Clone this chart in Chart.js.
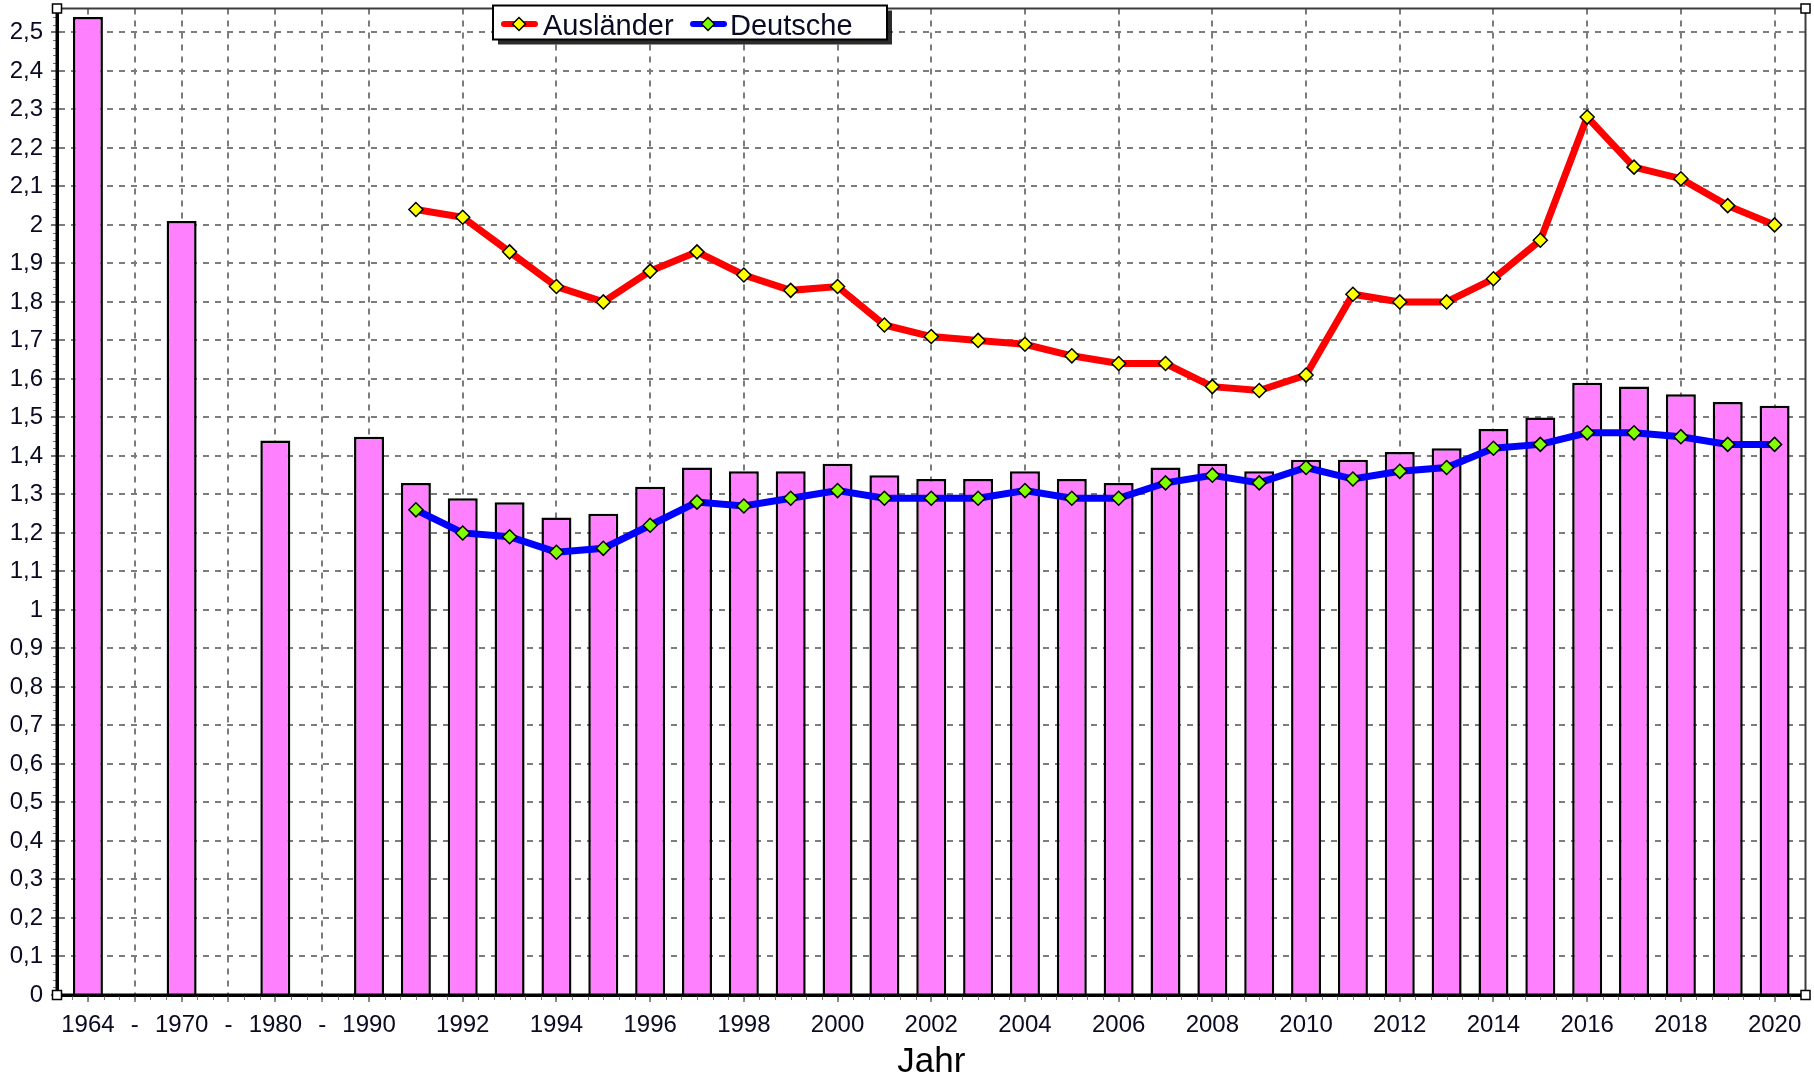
<!DOCTYPE html>
<html>
<head>
<meta charset="utf-8">
<script src="https://cdn.jsdelivr.net/npm/chart.js@4/dist/chart.umd.min.js"></script>
<style>
html,body{margin:0;padding:0;background:#ffffff;}
#wrap{width:1814px;height:1080px;position:relative;}
</style>
</head>
<body>
<div id="wrap"><canvas id="c" width="1814" height="1080"></canvas></div>
<script>
// ---- data ----
const categories = ['1964','-','1970','-','1980','-','1990',
  '1991','1992','1993','1994','1995','1996','1997','1998','1999','2000',
  '2001','2002','2003','2004','2005','2006','2007','2008','2009','2010',
  '2011','2012','2013','2014','2015','2016','2017','2018','2019','2020'];

// total fertility rate (bars); null = no bar ("-" gaps)
const totalRate = [2.54, null, 2.01, null, 1.44, null, 1.45,
  1.33, 1.29, 1.28, 1.24, 1.25, 1.32, 1.37, 1.36, 1.36, 1.38,
  1.35, 1.34, 1.34, 1.36, 1.34, 1.33, 1.37, 1.38, 1.36, 1.39,
  1.39, 1.41, 1.42, 1.47, 1.50, 1.59, 1.58, 1.56, 1.54, 1.53];

// lines start in 1991
const lineStartYear = '1991';
const auslaender = [2.04, 2.02, 1.93, 1.84, 1.80, 1.88, 1.93, 1.87, 1.83, 1.84,
  1.74, 1.71, 1.70, 1.69, 1.66, 1.64, 1.64, 1.58, 1.57, 1.61,
  1.82, 1.80, 1.80, 1.86, 1.96, 2.28, 2.15, 2.12, 2.05, 2.00];
const deutsche = [1.26, 1.20, 1.19, 1.15, 1.16, 1.22, 1.28, 1.27, 1.29, 1.31,
  1.29, 1.29, 1.29, 1.31, 1.29, 1.29, 1.33, 1.35, 1.33, 1.37,
  1.34, 1.36, 1.37, 1.42, 1.43, 1.46, 1.46, 1.45, 1.43, 1.43];

const yTickValues = [0,0.1,0.2,0.3,0.4,0.5,0.6,0.7,0.8,0.9,1,1.1,1.2,1.3,1.4,1.5,1.6,1.7,1.8,1.9,2,2.1,2.2,2.3,2.4,2.5];
const seriesNames = ['Ausländer', 'Deutsche'];

// ---- derived ----
const FONT = "'Liberation Sans', Arial, sans-serif";
const startIdx = categories.indexOf(lineStartYear);
const labeledIdx = categories.map((c, i) => i).filter(i => i < startIdx || (parseInt(categories[i], 10) % 2 === 0));
const barPoints = totalRate.map((v, i) => v == null ? null : {x: i, y: v}).filter(p => p);
const ausPoints = auslaender.map((v, i) => ({x: startIdx + i, y: v}));
const deuPoints = deutsche.map((v, i) => ({x: startIdx + i, y: v}));

const framePlugin = {
  id: 'frame',
  afterDraw(chart) {
    const {ctx, chartArea: a, scales: {x, y}} = chart;
    ctx.save();
    // minor ticks x
    ctx.strokeStyle = '#777';
    ctx.lineWidth = 1;
    ctx.beginPath();
    for (let k = Math.ceil(x.min * 3); k <= Math.floor(x.max * 3); k++) {
      const px = Math.round(x.getPixelForValue(k / 3)) + 0.5;
      ctx.moveTo(px, a.bottom + 1);
      ctx.lineTo(px, a.bottom + 5);
    }
    // minor ticks y
    for (let k = 0; k * 0.02 <= y.max; k++) {
      const py = Math.round(y.getPixelForValue(k * 0.02)) + 0.5;
      ctx.moveTo(a.left - 4, py);
      ctx.lineTo(a.left - 1, py);
    }
    ctx.stroke();
    // top & right frame
    ctx.strokeStyle = '#3c3c3c';
    ctx.lineWidth = 2;
    ctx.beginPath();
    ctx.moveTo(a.left, a.top);
    ctx.lineTo(a.right, a.top);
    ctx.lineTo(a.right, a.bottom);
    ctx.stroke();
    // axes
    ctx.strokeStyle = '#000';
    ctx.lineWidth = 3;
    ctx.beginPath();
    ctx.moveTo(a.left, a.top);
    ctx.lineTo(a.left, a.bottom);
    ctx.lineTo(a.right, a.bottom);
    ctx.stroke();
    // corner squares
    ctx.lineWidth = 1.5;
    [[a.left, a.top], [a.left, a.bottom], [a.right, a.bottom], [a.right, a.top]].forEach(([cx, cy]) => {
      ctx.fillStyle = '#fff';
      ctx.fillRect(cx - 4.5, cy - 4.5, 9, 9);
      ctx.strokeRect(cx - 4.5, cy - 4.5, 9, 9);
    });
    // legend
    const lx = a.left + 436, ly = a.top - 3, lw = 394, lh = 34;
    ctx.fillStyle = 'rgba(20,20,20,0.9)';
    ctx.fillRect(lx + 5, ly + 5, lw, lh);
    ctx.fillStyle = '#fff';
    ctx.fillRect(lx, ly, lw, lh);
    ctx.strokeStyle = '#000';
    ctx.lineWidth = 2;
    ctx.strokeRect(lx, ly, lw, lh);
    const ds = chart.data.datasets.filter(d => d.type === 'line');
    const items = [{x: lx + 9, tx: lx + 50}, {x: lx + 198, tx: lx + 237}];
    ds.forEach((d, i) => {
      const it = items[i];
      const cy = ly + 18.5;
      ctx.strokeStyle = d.borderColor;
      ctx.lineWidth = 6;
      ctx.lineCap = 'round';
      ctx.beginPath();
      ctx.moveTo(it.x + 2, cy);
      ctx.lineTo(it.x + 33, cy);
      ctx.stroke();
      const mx = it.x + 17;
      ctx.beginPath();
      ctx.moveTo(mx - 6.5, cy); ctx.lineTo(mx, cy - 6.5); ctx.lineTo(mx + 6.5, cy); ctx.lineTo(mx, cy + 6.5); ctx.closePath();
      ctx.fillStyle = d.pointBackgroundColor;
      ctx.fill();
      ctx.lineWidth = 1.5;
      ctx.strokeStyle = '#000';
      ctx.stroke();
      ctx.fillStyle = '#0a0a22';
      ctx.font = '29px ' + FONT;
      ctx.textBaseline = 'alphabetic';
      ctx.textAlign = 'left';
      ctx.fillText(d.label, it.tx, ly + 29.5);
    });
    ctx.restore();
  }
};

new Chart(document.getElementById('c'), {
  type: 'bar',
  data: {
    datasets: [
      {
        type: 'line', label: seriesNames[0], data: ausPoints, order: 0,
        borderColor: '#ff0000', borderWidth: 7, tension: 0,
        pointStyle: 'rectRot', pointRadius: 7, pointBackgroundColor: '#ffff00',
        pointBorderColor: '#000', pointBorderWidth: 1.5
      },
      {
        type: 'line', label: seriesNames[1], data: deuPoints, order: 0,
        borderColor: '#0000ff', borderWidth: 7, tension: 0,
        pointStyle: 'rectRot', pointRadius: 7, pointBackgroundColor: '#80ff00',
        pointBorderColor: '#000', pointBorderWidth: 1.5
      },
      {
        type: 'bar', label: 'Gesamt', data: barPoints, order: 1,
        backgroundColor: '#ff80ff', borderColor: '#000', borderWidth: 2.5,
        barPercentage: 0.64, categoryPercentage: 1.0
      }
    ]
  },
  options: {
    responsive: false,
    animation: false,
    devicePixelRatio: 1,
    layout: {padding: {top: 5, right: 7, left: 0, bottom: 0}},
    plugins: {legend: {display: false}, tooltip: {enabled: false}},
    scales: {
      x: {
        type: 'linear', min: -0.66, max: 36.66, offset: false,
        afterBuildTicks: s => { s.ticks = labeledIdx.map(v => ({value: v})); },
        afterFit: s => { s.height = 85; s.paddingLeft = 0; s.paddingRight = 0; },
        grid: {
          offset: false, color: '#7c7c7c', lineWidth: 2,
          drawTicks: true, tickLength: 7, tickColor: '#666', tickWidth: 1.5, tickBorderDash: []
        },
        border: {display: true, color: '#000', width: 3, dash: [6, 6]},
        ticks: {
          autoSkip: false, maxRotation: 0, minRotation: 0, padding: 9,
          color: '#0a0a22', font: {family: FONT, size: 24},
          callback: v => categories[v]
        },
        title: {display: true, text: 'Jahr', color: '#000', font: {family: FONT, size: 35, lineHeight: 1.0}, padding: {top: 0, bottom: 0}}
      },
      y: {
        type: 'linear', min: 0, max: 2.562,
        afterBuildTicks: s => { s.ticks = yTickValues.map(v => ({value: v})); },
        afterFit: s => { s.width = 57; s.paddingTop = 0; s.paddingBottom = 0; },
        grid: {
          color: '#7c7c7c', lineWidth: 2,
          drawTicks: true, tickLength: 6, tickColor: '#444', tickWidth: 1.5, tickBorderDash: []
        },
        border: {display: true, color: '#000', width: 3, dash: [6, 6]},
        ticks: {
          padding: 8, color: '#0a0a22', font: {family: FONT, size: 24},
          callback: v => String(Math.round(v * 10) / 10).replace('.', ',')
        }
      }
    }
  },
  plugins: [framePlugin]
});
</script>
</body>
</html>
